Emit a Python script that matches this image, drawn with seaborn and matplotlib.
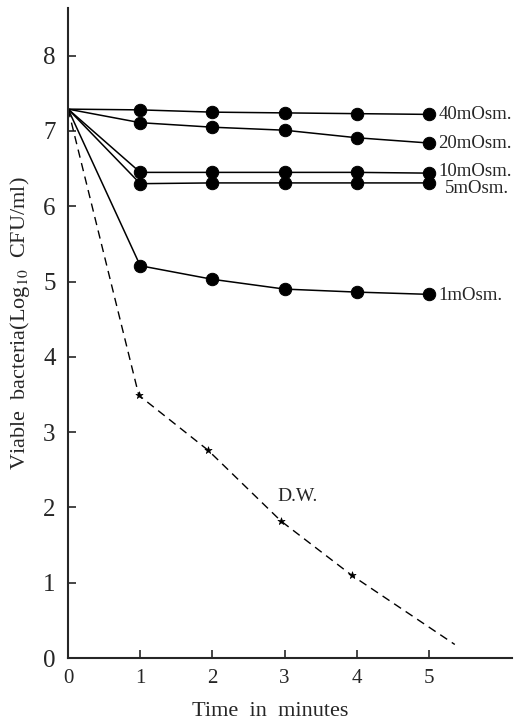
import pandas as pd
import seaborn as sns
import matplotlib.pyplot as plt

# time points (minutes)
times = [0, 1, 2, 3, 4, 5]
start = 7.29

osm_40 = [start, 7.28, 7.25, 7.24, 7.23, 7.22]
osm_20 = [start, 7.11, 7.05, 7.01, 6.91, 6.84]
osm_10 = [start, 6.45, 6.45, 6.45, 6.45, 6.44]
osm_5 = [start, 6.30, 6.31, 6.31, 6.31, 6.31]
osm_1 = [start, 5.21, 5.03, 4.90, 4.86, 4.83]

dw_times = [0, 0.98, 1.94, 2.95, 3.93, 5.36]
dw_vals = [start, 3.49, 2.76, 1.82, 1.10, 0.18]

series_names = ["40mOsm.", "20mOsm.", "10mOsm.", "5mOsm.", "1mOsm."]
series_vals = [osm_40, osm_20, osm_10, osm_5, osm_1]

sns.set_style("ticks")
plt.rcParams["font.family"] = ["Liberation Serif", "DejaVu Serif"]
plt.rcParams["mathtext.fontset"] = "stix"

fig = plt.figure(figsize=(5.32, 7.22), dpi=100)
ax = fig.add_axes([0.128, 0.0886, 0.834, 0.9])

label_offsets = {"40mOsm.": 0.0, "20mOsm.": 0.0, "10mOsm.": 0.02,
                 "5mOsm.": -0.08, "1mOsm.": -0.02}
for name, vals in zip(series_names, series_vals):
    df = pd.DataFrame({"t": times, "v": vals})
    sns.lineplot(data=df, x="t", y="v", ax=ax, color="black", linewidth=1.1)
    sns.scatterplot(data=df.iloc[1:], x="t", y="v", ax=ax, color="black",
                    s=80, edgecolor="black", zorder=3)
    dx = 0.13 if name != "5mOsm." else 0.22
    ax.text(5 + dx, vals[-1] + label_offsets[name], name,
            fontsize=13.5, va="center", ha="left")

dw = pd.DataFrame({"t": dw_times, "v": dw_vals})
sns.lineplot(data=dw, x="t", y="v", ax=ax, color="black", linewidth=1.0,
             linestyle=(0, (6, 4)))
sns.scatterplot(data=dw.iloc[1:5], x="t", y="v", ax=ax, color="black",
                marker="*", s=30, edgecolor="black", zorder=3)
ax.text(2.9, 2.15, "D.W.", fontsize=14, ha="left", va="center")

ax.set_xlim(0, 6.15)
ax.set_ylim(0, 8.63)
ax.set_xticks([0, 1, 2, 3, 4, 5])
ax.set_yticks(range(0, 9))
ax.tick_params(direction="in", length=6, width=1.2)
ax.tick_params(axis="x", labelsize=15, pad=8)
ax.tick_params(axis="y", labelsize=18, pad=9)
for s in ["top", "right"]:
    ax.spines[s].set_visible(False)
for s in ["left", "bottom"]:
    ax.spines[s].set_linewidth(1.5)
ax.set_xlabel("Time  in  minutes", fontsize=16)
ax.xaxis.set_label_coords(0.455, -0.068)
ax.set_ylabel(r"Viable  bacteria(Log$_{10}$  CFU/ml)", fontsize=16)
ax.yaxis.set_label_coords(-0.082, 0.515)

fig.savefig("out.png", dpi=100)
